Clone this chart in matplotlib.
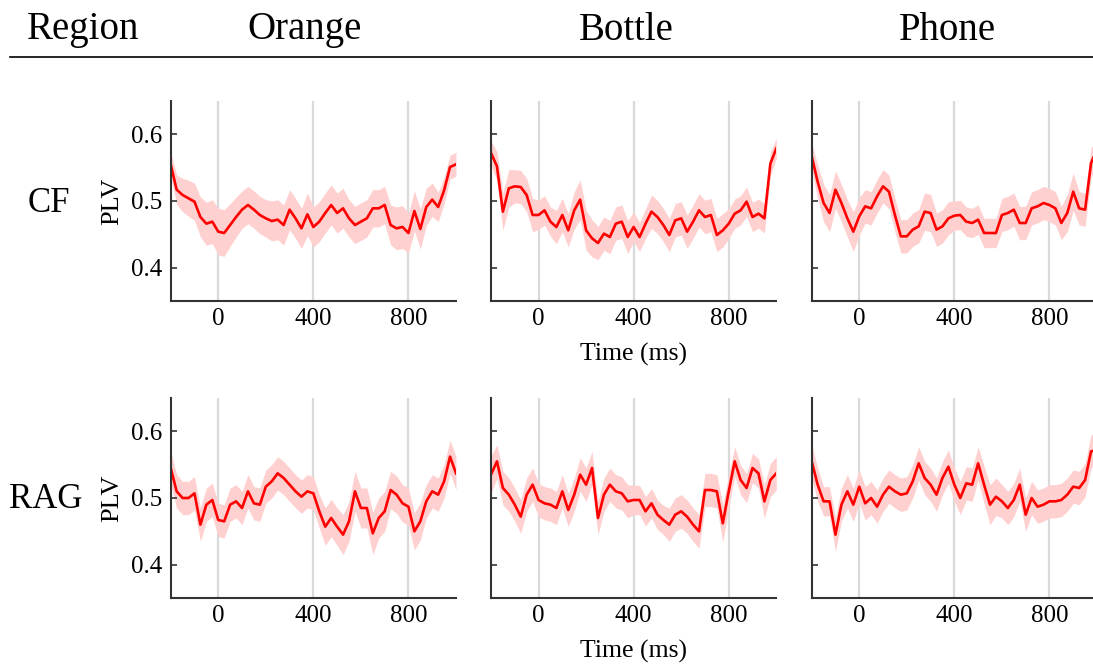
import numpy as np
import matplotlib
matplotlib.use("Agg")
import matplotlib.pyplot as plt

plt.rcParams['font.family'] = ['Liberation Serif', 'DejaVu Serif']

# ---------------- data ----------------
time_ms = list(range(-200, 1001, 25))  # 49 samples

objects = ["Orange", "Bottle", "Phone"]
regions = ["CF", "RAG"]

cf_orange = [0.555, 0.517, 0.509, 0.504, 0.499, 0.476, 0.466, 0.469, 0.454, 0.452,
             0.464, 0.476, 0.487, 0.494, 0.487, 0.479, 0.474, 0.470, 0.472, 0.464,
             0.487, 0.474, 0.459, 0.480, 0.461, 0.469, 0.482, 0.494, 0.482, 0.489,
             0.474, 0.464, 0.469, 0.474, 0.489, 0.489, 0.494, 0.464, 0.459, 0.461,
             0.452, 0.485, 0.458, 0.491, 0.502, 0.491, 0.516, 0.551, 0.555]
cf_bottle = [0.572, 0.552, 0.484, 0.519, 0.522, 0.521, 0.509, 0.479, 0.479, 0.486,
             0.469, 0.461, 0.479, 0.456, 0.486, 0.502, 0.456, 0.444, 0.437, 0.451,
             0.446, 0.466, 0.469, 0.446, 0.461, 0.446, 0.466, 0.484, 0.476, 0.464,
             0.449, 0.471, 0.474, 0.454, 0.469, 0.486, 0.476, 0.479, 0.449, 0.456,
             0.466, 0.481, 0.486, 0.499, 0.476, 0.481, 0.474, 0.556, 0.579]
cf_phone = [0.567, 0.529, 0.497, 0.482, 0.517, 0.497, 0.474, 0.454, 0.477, 0.492,
            0.489, 0.507, 0.522, 0.514, 0.479, 0.447, 0.447, 0.457, 0.462, 0.484,
            0.482, 0.457, 0.462, 0.474, 0.478, 0.479, 0.469, 0.467, 0.472, 0.452,
            0.452, 0.452, 0.479, 0.482, 0.487, 0.467, 0.467, 0.489, 0.492, 0.497,
            0.494, 0.489, 0.467, 0.482, 0.514, 0.489, 0.487, 0.557, 0.577]
rag_orange = [0.545, 0.510, 0.500, 0.500, 0.507, 0.460, 0.490, 0.497, 0.467, 0.465,
              0.490, 0.495, 0.485, 0.510, 0.492, 0.490, 0.517, 0.525, 0.537, 0.530,
              0.520, 0.510, 0.502, 0.510, 0.507, 0.480, 0.457, 0.470, 0.457, 0.445,
              0.465, 0.510, 0.485, 0.485, 0.447, 0.470, 0.480, 0.512, 0.505, 0.492,
              0.487, 0.450, 0.465, 0.495, 0.510, 0.505, 0.525, 0.562, 0.537]
rag_bottle = [0.535, 0.555, 0.515, 0.505, 0.490, 0.472, 0.505, 0.520, 0.497, 0.492,
              0.490, 0.485, 0.510, 0.482, 0.505, 0.535, 0.520, 0.545, 0.470, 0.505,
              0.520, 0.510, 0.507, 0.495, 0.497, 0.497, 0.480, 0.492, 0.475, 0.467,
              0.460, 0.475, 0.480, 0.472, 0.460, 0.450, 0.512, 0.512, 0.510, 0.462,
              0.510, 0.555, 0.527, 0.515, 0.545, 0.537, 0.495, 0.527, 0.537]
rag_phone = [0.555, 0.520, 0.495, 0.495, 0.445, 0.490, 0.510, 0.490, 0.517, 0.492,
             0.500, 0.487, 0.505, 0.517, 0.510, 0.505, 0.507, 0.525, 0.552, 0.530,
             0.520, 0.505, 0.530, 0.547, 0.520, 0.500, 0.522, 0.520, 0.552, 0.520,
             0.490, 0.502, 0.495, 0.485, 0.497, 0.520, 0.475, 0.500, 0.487, 0.490,
             0.495, 0.495, 0.497, 0.505, 0.517, 0.515, 0.527, 0.570, 0.572]

err_cf_orange = [0.018, 0.022, 0.025, 0.027, 0.028, 0.030, 0.032, 0.033, 0.035, 0.035,
                 0.032, 0.030, 0.028, 0.028, 0.028, 0.028, 0.028, 0.030, 0.030, 0.030,
                 0.030, 0.030, 0.030, 0.032, 0.030, 0.030, 0.030, 0.030, 0.030, 0.030,
                 0.028, 0.028, 0.028, 0.028, 0.028, 0.028, 0.028, 0.030, 0.032, 0.032,
                 0.030, 0.030, 0.030, 0.028, 0.025, 0.022, 0.020, 0.018, 0.018]
err_cf_bottle = [0.018, 0.022, 0.028, 0.028, 0.025, 0.025, 0.025, 0.025, 0.022, 0.022,
                 0.022, 0.025, 0.025, 0.025, 0.028, 0.030, 0.030, 0.028, 0.025, 0.025,
                 0.025, 0.025, 0.025, 0.025, 0.022, 0.022, 0.022, 0.025, 0.025, 0.025,
                 0.025, 0.025, 0.025, 0.025, 0.025, 0.025, 0.025, 0.025, 0.025, 0.025,
                 0.022, 0.022, 0.022, 0.022, 0.022, 0.022, 0.022, 0.018, 0.015]
err_cf_phone = [0.020, 0.025, 0.028, 0.028, 0.028, 0.028, 0.028, 0.030, 0.028, 0.025,
                0.025, 0.025, 0.025, 0.025, 0.025, 0.025, 0.025, 0.025, 0.025, 0.028,
                0.028, 0.025, 0.025, 0.025, 0.022, 0.022, 0.022, 0.022, 0.022, 0.022,
                0.022, 0.022, 0.025, 0.025, 0.025, 0.025, 0.025, 0.025, 0.025, 0.025,
                0.025, 0.025, 0.025, 0.028, 0.028, 0.025, 0.025, 0.022, 0.020]
err_rag_orange = [0.025, 0.025, 0.025, 0.025, 0.025, 0.025, 0.025, 0.025, 0.025, 0.025,
                  0.025, 0.025, 0.025, 0.025, 0.025, 0.025, 0.025, 0.025, 0.025, 0.025,
                  0.025, 0.025, 0.025, 0.025, 0.025, 0.025, 0.028, 0.028, 0.028, 0.030,
                  0.030, 0.030, 0.030, 0.030, 0.032, 0.030, 0.030, 0.028, 0.028, 0.028,
                  0.028, 0.028, 0.028, 0.025, 0.025, 0.025, 0.025, 0.025, 0.025]
err_rag_bottle = [0.028, 0.025, 0.025, 0.025, 0.025, 0.025, 0.025, 0.025, 0.025, 0.025,
                  0.025, 0.025, 0.025, 0.025, 0.025, 0.025, 0.025, 0.025, 0.025, 0.025,
                  0.025, 0.025, 0.025, 0.025, 0.022, 0.022, 0.022, 0.022, 0.022, 0.022,
                  0.025, 0.025, 0.025, 0.025, 0.025, 0.025, 0.025, 0.025, 0.025, 0.028,
                  0.025, 0.022, 0.022, 0.022, 0.022, 0.022, 0.025, 0.025, 0.025]
err_rag_phone = [0.025, 0.025, 0.022, 0.022, 0.025, 0.025, 0.025, 0.025, 0.025, 0.025,
                 0.025, 0.025, 0.025, 0.025, 0.025, 0.025, 0.025, 0.025, 0.025, 0.025,
                 0.025, 0.025, 0.025, 0.025, 0.025, 0.025, 0.025, 0.025, 0.025, 0.028,
                 0.030, 0.028, 0.025, 0.025, 0.025, 0.025, 0.025, 0.025, 0.025, 0.025,
                 0.025, 0.025, 0.025, 0.025, 0.025, 0.025, 0.025, 0.025, 0.025]

y_ticks = [0.4, 0.5, 0.6]
x_ticks = [0, 400, 800]

series = [[cf_orange, cf_bottle, cf_phone], [rag_orange, rag_bottle, rag_phone]]
errors = [[err_cf_orange, err_cf_bottle, err_cf_phone],
          [err_rag_orange, err_rag_bottle, err_rag_phone]]

# ---------------- figure ----------------
W, H = 1093, 664
fig = plt.figure(figsize=(W / 100, H / 100), dpi=100)

col_left = [170.7, 491.0, 811.7]
row_top = [101.0, 398.0]
ax_w, ax_h = 285.3, 200.0

t = np.array(time_ms)
for r in range(2):
    for c in range(3):
        ax = fig.add_axes([col_left[c] / W, 1 - (row_top[r] + ax_h) / H, ax_w / W, ax_h / H])
        y = np.array(series[r][c])
        e = np.array(errors[r][c])
        for xv in x_ticks:
            ax.axvline(xv, color='#d9d9d9', lw=1.6, zorder=0)
        ax.fill_between(t, y - e, y + e, color='#ffd0d0', lw=0, zorder=1)
        ax.plot(t, y, color='#ff0000', lw=1.9, zorder=2)
        ax.set_xlim(-200, 1000)
        ax.set_ylim(0.35, 0.65)
        ax.set_xticks(x_ticks)
        ax.set_yticks(y_ticks)
        for s in ['top', 'right']:
            ax.spines[s].set_visible(False)
        for s in ['left', 'bottom']:
            ax.spines[s].set_color('#333333')
            ax.spines[s].set_linewidth(1.5)
        ax.tick_params(direction='in', length=4, width=1.2, color='#333333',
                       labelsize=18, pad=6)
        ax.tick_params(axis='x', length=0, pad=5)
        if c == 0:
            ax.set_yticklabels(['0.4', '0.5', '0.6'])
            ax.set_ylabel('PLV', fontsize=19, labelpad=6)
        else:
            ax.set_yticklabels([])
        if c == 1:
            ax.set_xlabel('Time (ms)', fontsize=18.5, labelpad=9)

# headers
fig.text(83 / W, 1 - 30 / H, 'Region', fontsize=28, ha='center', va='center')
for name, xc in zip(objects, [305, 626, 947]):
    fig.text(xc / W, 1 - 30 / H, name, fontsize=28, ha='center', va='center')
fig.add_artist(plt.Line2D([10 / W, 1.0], [1 - 57 / H, 1 - 57 / H],
                          color='black', lw=1.2, transform=fig.transFigure))
for name, (xc, yc) in zip(regions, [(49, 203), (46, 500)]):
    fig.text(xc / W, 1 - yc / H, name, fontsize=25, ha='center', va='center')

fig.savefig('out.png', dpi=100)
